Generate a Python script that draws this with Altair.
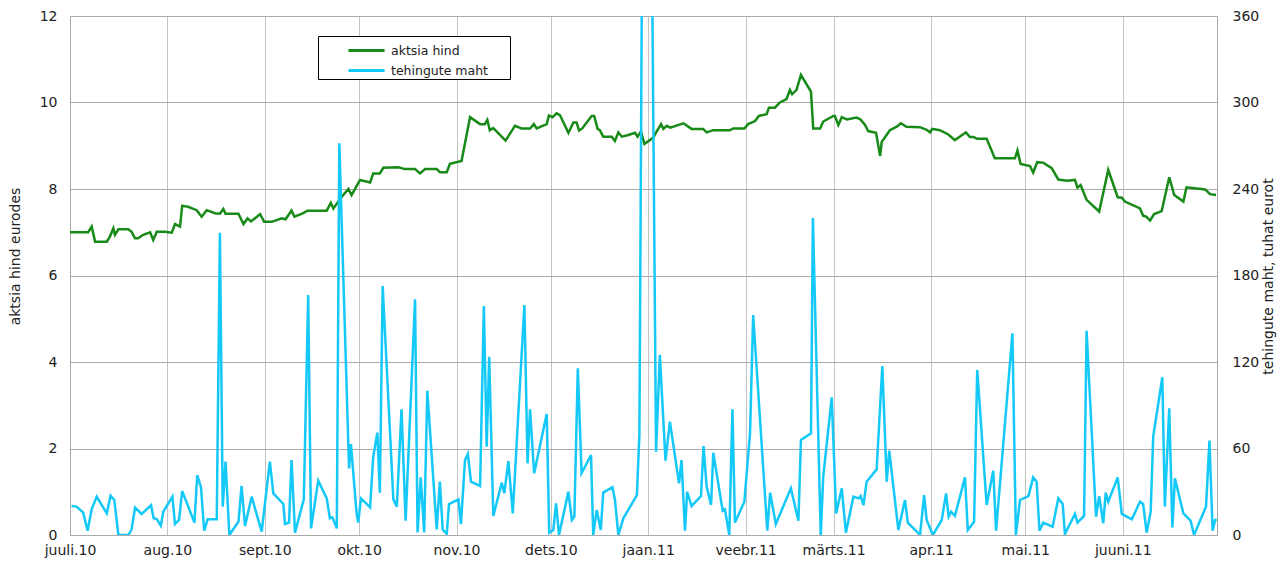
import altair as alt
import pandas as pd

# ---- data (x = days since 1 July 2010) ----
price_day = [0, 5.8, 6.9, 8.0, 11.7, 12.7, 13.8, 14.3, 15.4, 18.6, 19.6, 20.7, 21.7, 23.3, 25.5, 26.5,
             27.6, 30.2, 32.4, 33.4, 35.0, 35.7, 37.6, 40.3, 41.9, 43.5, 46.1, 47.7, 48.8, 49.5, 53.6,
             55.2, 56.5, 57.6, 60.5, 61.8, 64.2, 67.4, 68.6, 70.5, 71.4, 73.9, 75.6, 81.7, 83.0, 83.8,
             86.5, 88.6, 89.6, 92.3, 95.5, 96.5, 98.6, 99.7, 104.5, 106.6, 109.8, 111.4, 113.0, 116.7,
             117.7, 119.9, 120.9, 124.6, 127.3, 130.5, 132.0, 132.8, 133.6, 134.7, 138.6, 141.6, 143.7,
             146.4, 147.6, 148.5, 151.7, 152.4, 153.5, 154.9, 155.9, 158.6, 160.2, 161.2, 162.0, 163.0,
             166.0, 166.8, 167.9, 168.6, 169.7, 172.4, 173.4, 174.5, 175.6, 177.7, 179.8, 180.6, 181.7,
             182.8, 185.6, 186.7, 188.1, 188.8, 189.9, 191.0, 195.2, 197.8, 201.5, 202.6, 204.7, 210.0,
             211.1, 214.6, 215.8, 218.0, 219.2, 221.7, 222.4, 224.3, 225.9, 228.0, 229.1, 229.8, 231.2,
             232.6, 233.9, 235.8, 236.5, 238.7, 239.7, 242.9, 243.4, 244.5, 245.6, 247.2, 250.3, 251.5,
             253.0, 254.0, 256.5, 257.8, 258.3, 259.3, 260.9, 263.1, 264.4, 266.2, 270.5, 272.6, 273.7,
             274.4, 276.8, 279.5, 281.6, 285.1, 286.4, 287.5, 288.7, 291.7, 294.3, 300.7, 301.5, 302.5,
             305.5, 306.5, 307.8, 309.7, 312.4, 314.5, 317.2, 319.8, 320.6, 321.6, 323.5, 327.5, 330.4,
             333.4, 334.7, 335.7, 340.5, 341.5, 342.5, 343.7, 345.0, 347.4, 349.8, 351.4, 354.3, 355.3,
             361.2, 362.8, 364.7]
price_val = [7.0, 7.0, 7.13, 6.78, 6.78, 6.90, 7.09, 6.94, 7.07, 7.07, 7.01, 6.86, 6.86, 6.94, 7.0, 6.82,
             7.01, 7.01, 6.99, 7.19, 7.13, 7.61, 7.59, 7.51, 7.36, 7.51, 7.44, 7.43, 7.54, 7.43, 7.43,
             7.19, 7.32, 7.25, 7.42, 7.24, 7.24, 7.32, 7.30, 7.50, 7.36, 7.43, 7.50, 7.50, 7.68, 7.55,
             7.82, 8.0, 7.86, 8.21, 8.15, 8.36, 8.36, 8.49, 8.50, 8.46, 8.46, 8.36, 8.46, 8.46,
             8.39, 8.39, 8.58, 8.65, 9.66, 9.50, 9.50, 9.60, 9.36, 9.41, 9.12, 9.46, 9.40,
             9.40, 9.50, 9.40, 9.50, 9.70, 9.66, 9.75, 9.71, 9.30, 9.54, 9.54, 9.35, 9.40,
             9.69, 9.69, 9.39, 9.36, 9.21, 9.21, 9.11, 9.31, 9.21, 9.25, 9.30, 9.21, 9.33,
             9.04, 9.19, 9.33, 9.50, 9.39, 9.46, 9.42, 9.52, 9.39, 9.39, 9.31, 9.36, 9.36,
             9.40, 9.40, 9.50, 9.57, 9.69, 9.73, 9.88, 9.88, 10.0, 10.08, 10.29, 10.19, 10.29,
             10.64, 10.48, 10.25, 9.40, 9.40, 9.56, 9.69, 9.69, 9.48, 9.66, 9.61, 9.65, 9.61,
             9.48, 9.34, 9.30, 8.76, 9.09, 9.19, 9.36, 9.44, 9.52, 9.44, 9.43, 9.37, 9.31,
             9.39, 9.36, 9.26, 9.13, 9.31, 9.20, 9.20, 9.16, 9.16, 8.71, 8.71, 8.89, 8.58,
             8.53, 8.38, 8.62, 8.61, 8.48, 8.22, 8.19, 8.21, 8.03, 8.09, 7.75, 7.48, 8.44,
             7.81, 7.80, 7.71, 7.55, 7.38, 7.36, 7.27, 7.42, 7.49, 8.27, 7.86, 7.71, 8.04,
             7.99, 7.88, 7.86]

vol_day = [0.5, 2.1, 4.2, 5.6, 6.9, 8.5, 11.7, 12.9, 14.1, 15.4, 18.6, 19.6, 20.7, 22.8, 25.8, 26.6,
           27.6, 28.9, 29.7, 32.6, 33.4, 34.7, 35.7, 39.6, 40.5, 41.7, 42.7, 43.8, 46.7, 47.7, 48.6,
           49.5, 50.7, 53.6, 54.6, 55.7, 57.8, 61.0, 63.6, 64.7, 67.9, 68.4, 69.7, 70.5, 71.6, 74.4,
           75.8, 76.7, 79.0, 81.7, 82.7, 83.5, 84.9, 85.7, 88.8, 89.4, 91.2, 91.7, 92.6, 95.5, 96.5,
           97.8, 98.6, 99.5, 102.9, 104.0, 105.5, 106.8, 109.8, 110.6, 111.6, 112.7, 113.7, 116.7,
           117.7, 118.6, 119.9, 120.6, 123.6, 124.4, 125.7, 126.6, 127.6, 130.5, 131.7, 132.6, 133.4,
           134.7, 137.4, 138.2, 139.5, 140.9, 144.6, 145.6, 146.4, 147.7, 151.7, 152.5, 153.8, 154.7,
           155.6, 158.6, 159.7, 160.5, 161.6, 162.8, 165.8, 166.5, 167.6, 168.9, 169.7, 172.6, 173.4,
           174.5, 176.1, 180.4, 181.2, 183.3, 186.5, 187.7, 189.5, 190.9, 193.8, 194.6, 195.7, 196.4,
           197.8, 200.8, 201.6, 202.6, 204.0, 204.7, 207.7, 208.4, 209.8, 210.8, 211.6, 214.6, 216.4,
           217.4, 221.9, 222.8, 224.6, 229.4, 231.8, 232.6, 235.8, 236.4, 238.9, 239.7, 242.4, 243.8,
           245.6, 246.9, 249.3, 251.0, 251.6, 252.5, 253.5, 256.7, 258.5, 259.9, 260.7, 263.6, 265.7,
           266.6, 270.5, 271.8, 272.6, 274.6, 277.4, 278.8, 279.6, 280.4, 281.6, 284.8, 285.7, 287.7,
           288.7, 291.7, 293.8, 294.7, 299.9, 301.0, 302.3, 305.0, 306.5, 307.6, 308.5, 309.7, 312.7,
           314.5, 315.9, 316.6, 319.8, 320.6, 322.7, 323.5, 326.5, 327.5, 328.8, 329.6, 330.4, 333.4,
           334.7, 337.9, 340.5, 341.5, 342.6, 343.9, 344.7, 347.6, 348.4, 349.8, 350.8, 351.6, 354.3,
           356.6, 357.7, 361.5, 362.6, 363.6, 364.4, 364.9]
vol_val = [20.1, 19.7, 15.5, 3.0, 17.8, 26.6, 15.0, 27.3, 24.3, 0, 0, 3.9, 19.0, 14.6, 20.6, 11.6,
           11.1, 6.5, 16.2, 26.6, 7.6, 10.4, 30.5, 8.6, 41.6, 32.8, 3.0, 10.9, 10.9, 209.7, 19.7,
           50.9, 0, 9.2, 34.0, 6.2, 26.6, 2.3, 50.9, 28.9, 21.5, 7.6, 8.6, 52.0, 1.6, 24.7,
           166.5, 4.6, 37.7, 25.4, 11.6, 12.3, 4.6, 271.7, 46.2, 63.1, 15.0, 8.6, 25.4, 19.2, 54.3,
           71.0, 29.4, 172.7, 24.7, 19.7, 87.2, 9.9, 163.5, 1.8, 40.0, 1.8, 100.1, 3.9,
           37.0, 3.9, 0.7, 21.5, 24.7, 7.6, 52.0, 56.2, 37.0, 34.0, 158.8, 61.3, 123.7,
           13.2, 36.3, 28.9, 51.3, 15.0, 159.5, 49.7, 87.2, 42.8, 83.9, 1.6, 3.5, 22.0,
           0, 30.0, 10.4, 12.7, 115.6, 42.8, 55.5, 0, 17.3, 3.5, 29.4, 33.1, 24.7,
           0, 11.6, 27.7, 70.5, 900, 57.8, 124.9, 51.6, 78.6, 35.8, 52.0, 3.0, 30.0,
           20.1, 27.0, 61.7, 33.5, 20.8, 57.1, 16.9, 17.8, 0, 87.2, 8.6, 23.1, 70.5,
           152.6, 3.0, 29.4, 7.6, 32.4, 9.9, 65.9, 70.5, 219.9, 0, 40.5, 95.5, 15.0,
           32.4, 1.5, 26.6, 25.4, 27.0, 20.8, 37.0, 45.5, 117.2, 37.0, 58.5, 3.5, 24.3,
           8.6, 0, 27.7, 10.4, 0, 10.4, 28.9, 12.7, 16.2, 13.2, 40.0, 3.5, 9.2,
           114.5, 20.8, 44.6, 3.0, 139.9, 0, 24.3, 27.0, 40.0, 37.0, 3.0, 8.6, 5.8,
           25.4, 21.5, 0.7, 14.6, 8.6, 13.2, 141.7, 12.7, 27.0, 8.1, 29.4, 23.1, 40.0,
           14.6, 10.9, 23.1, 21.5, 1.6, 16.2, 68.2, 109.4, 19.7, 87.9, 5.3, 39.3, 15.0,
           9.9, 0, 19.7, 65.5, 3.0, 10.4, 10.4]

month_start_day = [0, 31, 62, 92, 123, 153, 184, 215, 243, 274, 304, 335]
month_label = ["juuli.10", "aug.10", "sept.10", "okt.10", "nov.10", "dets.10",
               "jaan.11", "veebr.11", "märts.11", "apr.11", "mai.11", "juuni.11"]
price_ticks = [0, 2, 4, 6, 8, 10, 12]
vol_ticks = [0, 60, 120, 180, 240, 300, 360]
series_names = ["aktsia hind", "tehingute maht"]
series_colors = ["#178a17", "#14c8f8"]

price_df = pd.DataFrame({"day": price_day, "value": price_val, "series": series_names[0]})
vol_df = pd.DataFrame({"day": vol_day, "value": vol_val, "series": series_names[1]})

FONT = "DejaVu Sans"
TXT = "#222222"

label_expr = ("[" + ",".join("'" + m + "'" for m in month_label) + "][indexof(["
              + ",".join(str(d) for d in month_start_day) + "], datum.value)]")

x_enc = alt.X(
    "day:Q",
    scale=alt.Scale(domain=[0, 365], nice=False, zero=False),
    axis=alt.Axis(values=month_start_day, labelExpr=label_expr, title=None, grid=True,
                  gridColor="#c4c4c4", gridWidth=1, ticks=False, labelPadding=8,
                  labelFontSize=14, labelFont=FONT, labelColor=TXT, labelFlush=False,
                  labelOverlap=False, domainColor="#aaaaaa"),
)

color_enc = alt.Color(
    "series:N",
    scale=alt.Scale(domain=series_names, range=series_colors),
    legend=alt.Legend(title=None, orient="none", legendX=248, legendY=20, direction="vertical",
                      fillColor="white", strokeColor="black", padding=2,
                      symbolType="M-1.64,0L1.64,0", symbolSize=484, symbolStrokeWidth=3,
                      symbolOffset=34, labelOffset=12, rowPadding=1,
                      labelFontSize=12.5, labelFont=FONT, labelColor=TXT, labelLimit=300,
                      labelExpr="datum.label + '\u00a0\u00a0\u00a0\u00a0\u00a0\u200b'"),
)

price = alt.Chart(price_df).mark_line(strokeWidth=2.5, clip=True).encode(
    x=x_enc,
    y=alt.Y("value:Q", scale=alt.Scale(domain=[0, 12], nice=False),
            axis=alt.Axis(values=price_ticks, orient="left", title="aktsia hind eurodes",
                          grid=True, gridColor="#aaaaaa", ticks=False, labelPadding=13,
                          labelFontSize=14, labelFont=FONT, labelColor=TXT,
                          titleFont=FONT, titleFontSize=14, titleFontWeight="normal",
                          titleColor=TXT, titlePadding=17, titleY=240,
                          domainColor="#aaaaaa")),
    color=color_enc,
)

vol = alt.Chart(vol_df).mark_line(strokeWidth=2.5, clip=True).encode(
    x=x_enc,
    y=alt.Y("value:Q", scale=alt.Scale(domain=[0, 360], nice=False),
            axis=alt.Axis(values=vol_ticks, orient="right", title="tehingute maht, tuhat eurot",
                          grid=False, ticks=False, labelPadding=15, labelFontSize=14,
                          labelFont=FONT, labelColor=TXT, titleFont=FONT, titleFontSize=14,
                          titleFontWeight="normal", titleColor=TXT,
                          titleAngle=270, titleX=51, titleY=260, titleBaseline="middle",
                          titleAlign="center", domainColor="#aaaaaa")),
    color=color_enc,
)

chart = (
    alt.layer(price, vol)
    .resolve_scale(y="independent")
    .properties(width=1147, height=519,
                padding={"left": 62, "top": 8, "right": 60, "bottom": 26},
                autosize=alt.AutoSizeParams(type="none"))
    .configure_view(stroke="#aaaaaa")
)

chart.save("out.html", embed_options={"renderer": "svg", "actions": False})
